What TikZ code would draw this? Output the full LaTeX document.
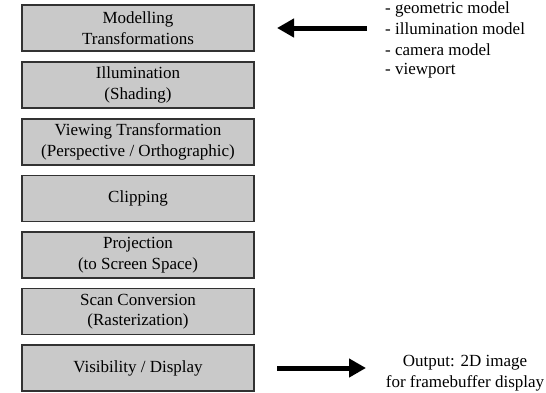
\documentclass[tikz,border=0pt]{standalone}
\usepackage{fontspec}
\setmainfont{Liberation Serif}
\usetikzlibrary{arrows.meta}
\definecolor{boxfill}{RGB}{201,201,201}
\definecolor{boxline}{RGB}{50,50,50}
\tikzset{
  stage/.style={draw=boxline, line width=1.4pt, fill=boxfill, minimum width=232pt, minimum height=46pt, inner sep=0pt, align=center, font=\fontsize{17}{20.5}\selectfont},
  label/.style={anchor=base west, inner sep=0pt, font=\fontsize{17}{20.5}\selectfont},
  outlabel/.style={anchor=base, inner sep=0pt, font=\fontsize{17}{20.5}\selectfont},
  bigarrow/.style={line width=5pt, -{Triangle[length=17pt,width=18pt]}}
}
\begin{document}
\begin{tikzpicture}[x=1pt,y=-1pt]
\useasboundingbox (0,0) rectangle (546,392);
\node[stage] (m) at (138,28) {Modelling\\Transformations};
\node[stage] (i) at (138,85) {Illumination\\(Shading)};
\node[stage] (v) at (138,142) {Viewing Transformation\\(Perspective / Orthographic)};
\node[stage] (c) at (138,198.5) {Clipping};
\node[stage] (p) at (138,255) {Projection\\(to Screen Space)};
\node[stage] (s) at (138,311.5) {Scan Conversion\\(Rasterization)};
\node[stage] (d) at (138,368) {Visibility / Display};
\node[label] (l1) at (385,13) {- geometric model};
\node[label] (l2) at (385,34) {- illumination model};
\node[label] (l3) at (385,55) {- camera model};
\node[label] (l4) at (385,74) {- viewport};
\node[outlabel] (o1) at (465,366) {Output: 2D image};
\node[outlabel] (o2) at (465,387) {for framebuffer display};
\coordinate (ta) at (367,28);
\coordinate (tb) at (277,28);
\coordinate (ba) at (277,368);
\coordinate (bb) at (366,368);
\draw[bigarrow] (ta) -- (tb);
\draw[bigarrow] (ba) -- (bb);
\end{tikzpicture}
\end{document}
